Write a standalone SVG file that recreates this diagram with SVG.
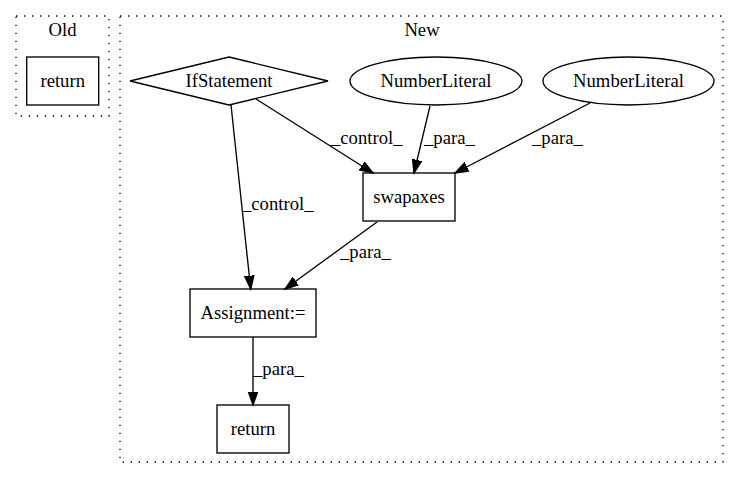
<svg xmlns="http://www.w3.org/2000/svg" width="741" height="480" viewBox="0 0 741 480" font-family="'Liberation Serif', 'Times New Roman', Times, serif" font-size="18.67">
<style>
  .mid { text-anchor: middle; }
  .node { fill: #fff; stroke: #000; stroke-width: 1.33; }
  .cluster { fill: none; stroke: #000; stroke-width: 1.33; stroke-dasharray: 1.33 6.67; }
  .edge { fill: none; stroke: #000; stroke-width: 1.33; marker-end: url(#arrow); }
</style>
<defs>
  <marker id="arrow" markerUnits="userSpaceOnUse" markerWidth="16" markerHeight="12" refX="13.3" refY="6" orient="auto" viewBox="0 0 16 12">
    <path d="M0,1.33 L13.3,6 L0,10.67 Z" fill="#000" stroke="#000" stroke-width="1.33"/>
  </marker>
</defs>
<rect width="741" height="480" fill="#fff"/>
<g id="cluster_old">
  <rect class="cluster" x="16" y="16" width="93" height="100"/>
  <text class="mid" x="62.5" y="35.5">Old</text>
</g>
<g id="cluster_new">
  <rect class="cluster" x="120" y="16" width="603" height="446"/>
  <text class="mid" x="422" y="35.5">New</text>
</g>
<g id="old_return">
  <rect class="node" x="26.7" y="57" width="72" height="48"/>
  <text class="mid" x="62.7" y="87">return</text>
</g>
<g id="ifstatement">
  <polygon class="node" points="229,57 328,81 229,105 130,81"/>
  <text class="mid" x="229" y="87">IfStatement</text>
</g>
<g id="numberliteral1">
  <ellipse class="node" cx="436" cy="81" rx="86" ry="24"/>
  <text class="mid" x="436" y="87">NumberLiteral</text>
</g>
<g id="numberliteral2">
  <ellipse class="node" cx="628.5" cy="81" rx="85.5" ry="24"/>
  <text class="mid" x="628.5" y="87">NumberLiteral</text>
</g>
<g id="swapaxes">
  <rect class="node" x="363" y="173" width="92" height="48"/>
  <text class="mid" x="409" y="203">swapaxes</text>
</g>
<g id="assignment">
  <rect class="node" x="190" y="289" width="126" height="48"/>
  <text class="mid" x="253" y="319">Assignment:=</text>
</g>
<g id="new_return">
  <rect class="node" x="217" y="405" width="72" height="48"/>
  <text class="mid" x="253" y="435">return</text>
</g>
<g id="connectors">
  <line class="edge" x1="231" y1="105" x2="250.7" y2="289"/>
  <text x="242" y="210">_control_</text>
  <line class="edge" x1="256" y1="99" x2="373" y2="173"/>
  <text x="331" y="144">_control_</text>
  <line class="edge" x1="430" y1="106" x2="414" y2="173"/>
  <text x="424" y="144">_para_</text>
  <line class="edge" x1="590" y1="103" x2="455" y2="173"/>
  <text x="532" y="144">_para_</text>
  <line class="edge" x1="377" y1="222" x2="285" y2="289"/>
  <text x="340" y="258">_para_</text>
  <line class="edge" x1="253" y1="337" x2="253" y2="405"/>
  <text x="253" y="375">_para_</text>
</g>
</svg>
